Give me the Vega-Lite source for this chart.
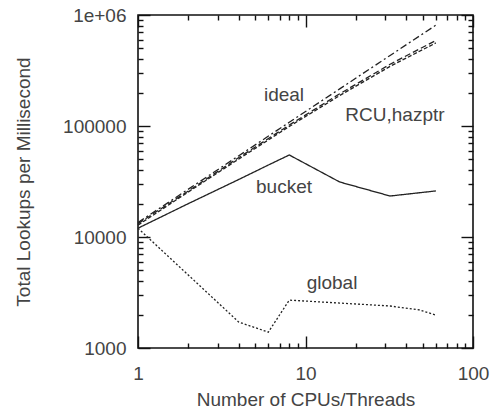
{
  "$schema": "https://vega.github.io/schema/vega-lite/v6.json",
  "width": 335,
  "height": 333,
  "autosize": "none",
  "padding": {"left": 138, "top": 15, "right": 20, "bottom": 65},
  "config": {
    "view": {"stroke": "#111", "strokeWidth": 1.6},
    "font": "Liberation Sans",
    "axis": {
      "ticks": true,
      "tickOpacity": 1,
      "domain": false,
      "tickColor": "#111",
      "tickWidth": 1.4,
      "grid": false,
      "labelFont": "Liberation Sans",
      "labelFontSize": 19,
      "labelColor": "#444",
      "titleFont": "Liberation Sans",
      "titleFontSize": 19,
      "titleFontWeight": "normal",
      "titleColor": "#444",
      "labelOverlap": false,
      "labelFlush": false
    }
  },
  "datasets": {
    "upper": [
      {"x": 1, "y": 13500, "s": "ideal"},
      {"x": 2, "y": 27000, "s": "ideal"},
      {"x": 4, "y": 54000, "s": "ideal"},
      {"x": 8, "y": 108000, "s": "ideal"},
      {"x": 16, "y": 216000, "s": "ideal"},
      {"x": 32, "y": 432000, "s": "ideal"},
      {"x": 60, "y": 810000, "s": "ideal"},
      {"x": 1, "y": 13200, "s": "RCU"},
      {"x": 2, "y": 26000, "s": "RCU"},
      {"x": 4, "y": 52000, "s": "RCU"},
      {"x": 8, "y": 102000, "s": "RCU"},
      {"x": 16, "y": 195000, "s": "RCU"},
      {"x": 32, "y": 360000, "s": "RCU"},
      {"x": 60, "y": 590000, "s": "RCU"},
      {"x": 1, "y": 12800, "s": "hazptr"},
      {"x": 2, "y": 25500, "s": "hazptr"},
      {"x": 4, "y": 50500, "s": "hazptr"},
      {"x": 8, "y": 99000, "s": "hazptr"},
      {"x": 16, "y": 188000, "s": "hazptr"},
      {"x": 32, "y": 345000, "s": "hazptr"},
      {"x": 60, "y": 560000, "s": "hazptr"}
    ],
    "lower": [
      {"x": 1, "y": 12000, "s": "bucket"},
      {"x": 2, "y": 20000, "s": "bucket"},
      {"x": 4, "y": 33000, "s": "bucket"},
      {"x": 6, "y": 44500, "s": "bucket"},
      {"x": 8, "y": 54800, "s": "bucket"},
      {"x": 16, "y": 31300, "s": "bucket"},
      {"x": 32, "y": 23400, "s": "bucket"},
      {"x": 60, "y": 26000, "s": "bucket"},
      {"x": 1, "y": 12000, "s": "global"},
      {"x": 4, "y": 1710, "s": "global"},
      {"x": 6, "y": 1390, "s": "global"},
      {"x": 8, "y": 2700, "s": "global"},
      {"x": 16, "y": 2540, "s": "global"},
      {"x": 32, "y": 2390, "s": "global"},
      {"x": 48, "y": 2200, "s": "global"},
      {"x": 60, "y": 1980, "s": "global"}
    ],
    "upperLabels": [
      {"x": 7.44, "y": 190000, "t": "ideal"},
      {"x": 34.2, "y": 125700, "t": "RCU,hazptr"}
    ],
    "lowerLabels": [
      {"x": 7.44, "y": 28200, "t": "bucket"},
      {"x": 14.4, "y": 3850, "t": "global"}
    ]
  },
  "layer": [
    {
      "data": {"name": "upper"},
      "mark": {"type": "line", "strokeWidth": 1.3, "color": "#222"},
      "encoding": {
        "x": {
          "field": "x", "type": "quantitative",
          "scale": {"type": "log", "domain": [1, 100], "nice": false},
          "axis": {
            "orient": "bottom", "ticks": true, "domain": false,
            "offset": -12, "tickSize": 12,
            "title": "Number of CPUs/Threads",
            "titlePadding": 7,
            "values": [1, 10, 100],
            "format": "d",
            "labelPadding": 16
          }
        },
        "y": {
          "field": "y", "type": "quantitative",
          "scale": {"type": "log", "domain": [1000, 1000000], "nice": false},
          "axis": {
            "orient": "left", "ticks": true, "domain": false,
            "offset": -12, "tickSize": 12,
            "title": "Total Lookups per Millisecond",
            "titlePadding": 29,
            "values": [1000, 10000, 100000, 1000000],
            "labelExpr": "datum.value == 1000000 ? '1e+06' : format(datum.value, 'd')",
            "labelPadding": 12
          }
        },
        "detail": {"field": "s"},
        "strokeDash": {
          "field": "s", "type": "nominal",
          "scale": {"domain": ["ideal", "RCU", "hazptr", "bucket", "global"], "range": [[7,3,2,3],[6,3],[4,2],[1,0],[2,2]]},
          "legend": null
        }
      }
    },
    {
      "data": {"name": "lower"},
      "mark": {"type": "line", "strokeWidth": 1.3, "color": "#222"},
      "encoding": {
        "x": {
          "field": "x", "type": "quantitative",
          "axis": {
            "orient": "bottom", "ticks": true, "domain": false, "title": null, "labels": false,
            "offset": -5, "tickSize": 5,
            "values": [2,3,4,5,6,7,8,9,20,30,40,50,60,70,80,90]
          }
        },
        "y": {
          "field": "y", "type": "quantitative",
          "axis": {
            "orient": "left", "ticks": true, "domain": false, "title": null, "labels": false,
            "offset": -5, "tickSize": 5,
            "values": [2000,3000,4000,5000,6000,7000,8000,9000,20000,30000,40000,50000,60000,70000,80000,90000,200000,300000,400000,500000,600000,700000,800000,900000]
          }
        },
        "detail": {"field": "s"},
        "strokeDash": {"field": "s", "type": "nominal", "legend": null}
      }
    },
    {
      "data": {"name": "upperLabels"},
      "mark": {"type": "text", "font": "Liberation Sans", "fontSize": 19, "color": "#444", "align": "center", "baseline": "middle"},
      "encoding": {
        "x": {
          "field": "x", "type": "quantitative",
          "axis": {
            "orient": "top", "ticks": true, "domain": false, "title": null, "labels": false,
            "offset": -12, "tickSize": 12,
            "values": [1, 10, 100]
          }
        },
        "y": {
          "field": "y", "type": "quantitative",
          "axis": {
            "orient": "right", "ticks": true, "domain": false, "title": null, "labels": false,
            "offset": -12, "tickSize": 12,
            "values": [1000, 10000, 100000, 1000000]
          }
        },
        "text": {"field": "t"}
      }
    },
    {
      "data": {"name": "lowerLabels"},
      "mark": {"type": "text", "font": "Liberation Sans", "fontSize": 19, "color": "#444", "align": "center", "baseline": "middle"},
      "encoding": {
        "x": {
          "field": "x", "type": "quantitative",
          "axis": {
            "orient": "top", "ticks": true, "domain": false, "title": null, "labels": false,
            "offset": -5, "tickSize": 5,
            "values": [2,3,4,5,6,7,8,9,20,30,40,50,60,70,80,90]
          }
        },
        "y": {
          "field": "y", "type": "quantitative",
          "axis": {
            "orient": "right", "ticks": true, "domain": false, "title": null, "labels": false,
            "offset": -5, "tickSize": 5,
            "values": [2000,3000,4000,5000,6000,7000,8000,9000,20000,30000,40000,50000,60000,70000,80000,90000,200000,300000,400000,500000,600000,700000,800000,900000]
          }
        },
        "text": {"field": "t"}
      }
    }
  ],
  "resolve": {"scale": {"x": "shared", "y": "shared"}, "axis": {"x": "independent", "y": "independent"}}
}
